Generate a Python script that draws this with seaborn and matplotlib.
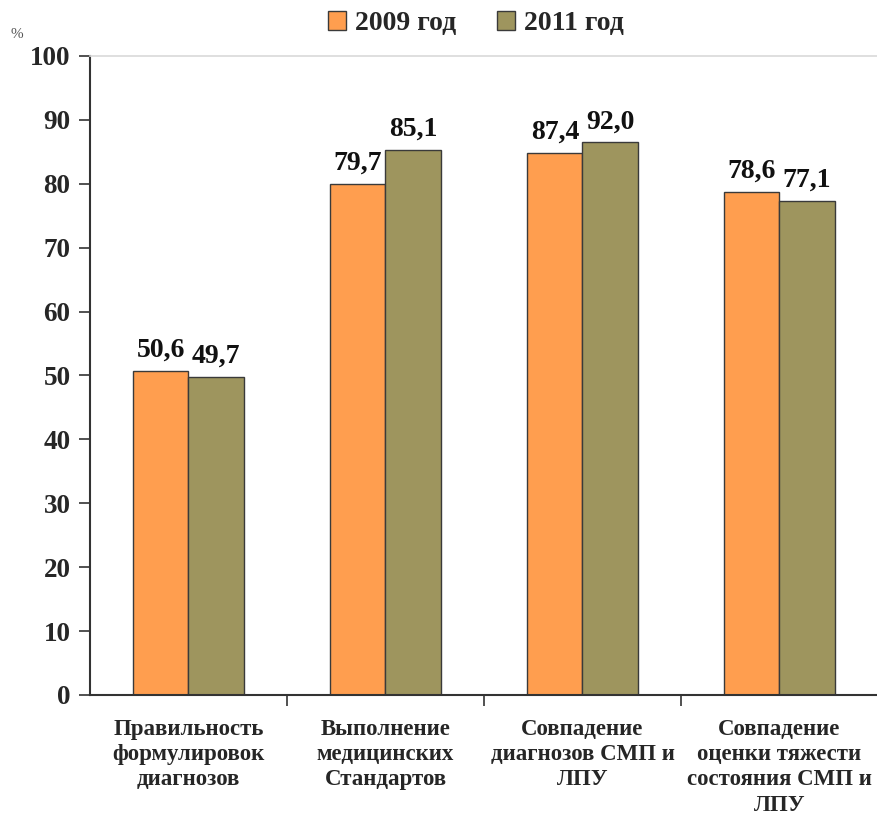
import pandas as pd
import seaborn as sns
import matplotlib.pyplot as plt

# data
categories = ['Правильность\nформулировок\nдиагнозов',
              'Выполнение\nмедицинских\nСтандартов',
              'Совпадение\nдиагнозов СМП и\nЛПУ',
              'Совпадение\nоценки тяжести\nсостояния СМП и\nЛПУ']
years = ['2009 год', '2011 год']
values_2009 = [50.7, 80.0, 84.8, 78.7]
values_2011 = [49.8, 85.3, 86.5, 77.3]
labels_2009 = ['50,6', '79,7', '87,4', '78,6']
labels_2011 = ['49,7', '85,1', '92,0', '77,1']

df = pd.DataFrame({
    'cat': categories * 2,
    'year': [years[0]] * 4 + [years[1]] * 4,
    'value': values_2009 + values_2011,
})

sns.set_style('white')
plt.rcParams['font.family'] = ['Liberation Serif', 'DejaVu Serif']

fig = plt.figure(figsize=(8.78, 8.16), dpi=100)
ax = fig.add_axes([0.1025, 0.1483, 0.8975, 0.7831])

palette = {years[0]: '#FF9E4F', years[1]: '#9E955E'}
sns.barplot(data=df, x='cat', y='value', hue='year', order=categories,
            hue_order=years, palette=palette, width=0.56, saturation=1,
            edgecolor='#3a3a3a', linewidth=1, ax=ax, legend=True)

# value labels above bars
for cont, labs in zip(ax.containers, [labels_2009, labels_2011]):
    for bar, lab in zip(cont, labs):
        ax.text(bar.get_x() + bar.get_width() / 2, bar.get_height() + 3.2, lab,
                ha='center', va='center', fontsize=20, fontweight='bold',
                color='#111111')

ax.set_ylim(0, 100)
ax.set_xlim(-0.5, 3.5)
ax.set_yticks(range(0, 101, 10))
ax.set_yticklabels([str(v) for v in range(0, 101, 10)], fontsize=19.5,
                   fontweight='bold')
ax.set_xticks(range(4))
ax.set_xticklabels(categories, fontsize=16.5, fontweight='bold',
                   linespacing=1.27)
ax.set_xticks([0.5, 1.5, 2.5], minor=True)
ax.tick_params(axis='x', which='major', length=0, pad=17)
ax.tick_params(axis='x', which='minor', length=8, width=1.2,
               direction='out', color='#333333', bottom=True)
ax.tick_params(axis='y', length=8, width=1.2, direction='out',
               color='#333333', left=True, pad=6)
ax.set_xlabel('')
ax.set_ylabel('')

for side in ['left', 'bottom']:
    ax.spines[side].set_color('#333333')
    ax.spines[side].set_linewidth(1.5)
ax.spines['top'].set_color('#d9d9d9')
ax.spines['top'].set_linewidth(1.2)
ax.spines['right'].set_visible(False)

handles, lbls = ax.get_legend_handles_labels()
ax.get_legend().remove()
fig.legend(handles, lbls, loc='center', bbox_to_anchor=(0.542, 0.971),
           ncol=2, frameon=False, prop={'size': 20, 'weight': 'bold'},
           handlelength=0.65, handleheight=0.65, handletextpad=0.3,
           columnspacing=1.5, borderpad=0)

fig.text(0.012, 0.953, '%', fontsize=11, color='#555555')

fig.savefig('out.png', dpi=100)
